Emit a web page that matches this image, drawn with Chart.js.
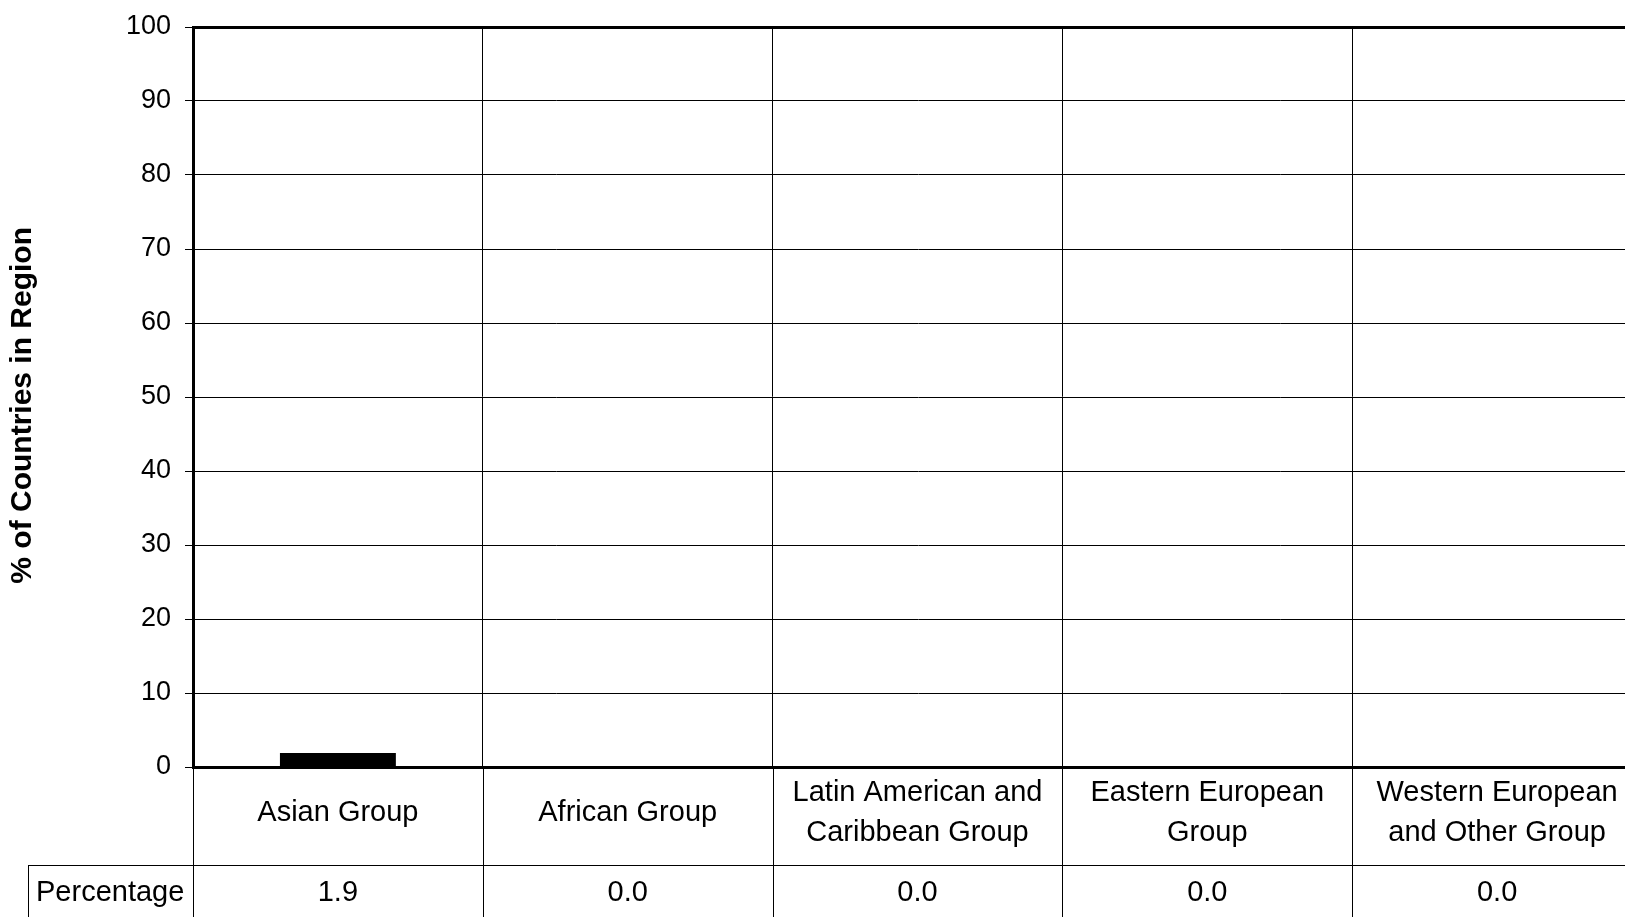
<!DOCTYPE html>
<html>
<head>
<meta charset="utf-8">
<script src="https://cdn.jsdelivr.net/npm/chart.js@4.4.1/dist/chart.umd.min.js"></script>
<style>
  html, body { margin: 0; padding: 0; background: #fff; overflow: hidden; }
  #wrap { position: absolute; left: 0; top: 0; width: 1700px; height: 917px; }
</style>
</head>
<body>
<div id="wrap"><canvas id="chart" width="1700" height="917"></canvas></div>
<script>
// Data
const categories = [
  ['Asian Group'],
  ['African Group'],
  ['Latin American and', 'Caribbean Group'],
  ['Eastern European', 'Group'],
  ['Western European', 'and Other Group']
];
const percentages = [1.9, 0.0, 0.0, 0.0, 0.0];
const rowLabel = 'Percentage';
const yAxisTitle = '% of Countries in Region';
const yMin = 0, yMax = 100, yStep = 10;

const FONT = "'Liberation Sans', Arial, sans-serif";

// Draws the data table under the x axis (row lines + Percentage values)
const dataTablePlugin = {
  id: 'dataTable',
  afterDraw(chart) {
    const { ctx, chartArea, scales: { x } } = chart;
    const rowTop = chartArea.bottom + 98;
    const bottom = chart.height;
    const tableLeft = 28;
    ctx.save();
    ctx.strokeStyle = '#000';
    ctx.lineWidth = 1;

    // column edges run down through the label and value rows
    for (let i = 0; i <= categories.length; i++) {
      const px = Math.round(x.getPixelForValue(i - 0.5)) + 0.5;
      ctx.beginPath();
      ctx.moveTo(px, chartArea.bottom);
      ctx.lineTo(px, bottom);
      ctx.stroke();
    }
    // row separator and the row-header cell
    ctx.beginPath();
    ctx.moveTo(tableLeft, rowTop + 0.5);
    ctx.lineTo(chart.width, rowTop + 0.5);
    ctx.moveTo(tableLeft + 0.5, rowTop);
    ctx.lineTo(tableLeft + 0.5, bottom);
    ctx.stroke();

    ctx.fillStyle = '#000';
    ctx.font = '29px ' + FONT;
    ctx.textBaseline = 'middle';
    const rowMid = rowTop + 28;
    ctx.textAlign = 'left';
    ctx.fillText(rowLabel, tableLeft + 8, rowMid);
    ctx.textAlign = 'center';
    percentages.forEach((v, i) => {
      ctx.fillText(v.toFixed(1), x.getPixelForValue(i), rowMid);
    });
    ctx.restore();
  }
};

new Chart(document.getElementById('chart'), {
  type: 'bar',
  data: {
    labels: categories,
    datasets: [{
      label: rowLabel,
      data: percentages,
      backgroundColor: '#000',
      borderWidth: 0,
      barPercentage: 0.4,
      categoryPercentage: 1.0
    }]
  },
  options: {
    responsive: false,
    animation: false,
    devicePixelRatio: 1,
    layout: { padding: { top: 27, right: 58, bottom: 0, left: 0 } },
    plugins: {
      legend: { display: false },
      tooltip: { enabled: false }
    },
    scales: {
      x: {
        afterFit(scale) {
          scale.height = 150;
          scale.paddingLeft = 0;
          scale.paddingRight = 0;
        },
        grid: { display: true, offset: true, color: '#000', lineWidth: 1, drawTicks: false },
        border: { display: true, color: '#000', width: 3 },
        ticks: {
          color: '#000',
          font: { family: FONT, size: 29, lineHeight: 40 / 29 },
          padding: 26,
          crossAlign: 'center',
          maxRotation: 0,
          autoSkip: false
        }
      },
      y: {
        min: yMin,
        max: yMax,
        afterFit(scale) {
          scale.width = 193;
          scale.paddingTop = 0;
          scale.paddingBottom = 0;
        },
        grid: {
          color: '#000',
          lineWidth: c => (c.tick && c.tick.value === yMax ? 3 : 1),
          tickLength: 8,
          tickWidth: 1,
          tickColor: '#000'
        },
        border: { display: true, color: '#000', width: 3 },
        ticks: {
          stepSize: yStep,
          color: '#000',
          padding: 14,
          font: { family: FONT, size: 27 }
        },
        title: {
          display: true,
          // trailing spaces nudge the rotated title down to sit like the original
          text: yAxisTitle + '\u00a0\u00a0',
          color: '#000',
          padding: { top: 5, bottom: 0 },
          font: { family: FONT, size: 30, weight: 'bold' }
        }
      }
    }
  },
  plugins: [dataTablePlugin]
});
</script>
</body>
</html>
